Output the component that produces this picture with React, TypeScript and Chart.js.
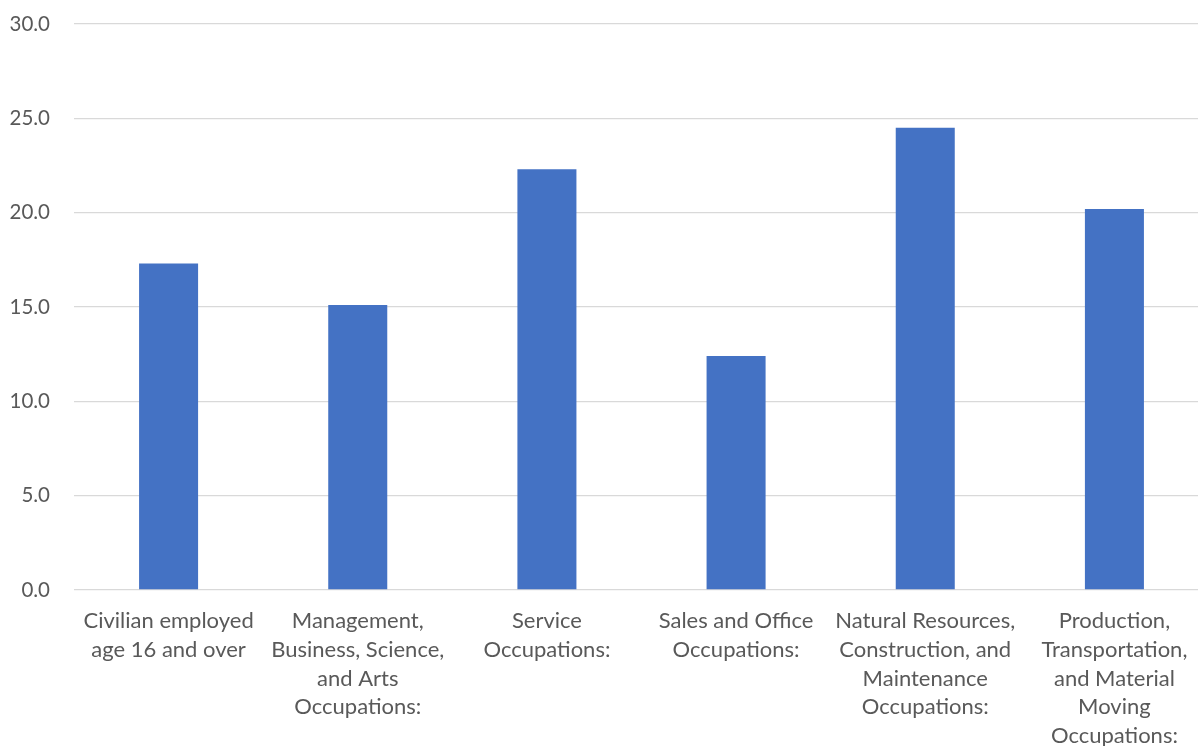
import React, { useEffect, useRef } from "react";
import { Chart, registerables } from "chart.js";

Chart.register(...registerables);

const categories: string[][] = [
  ["Civilian employed", "age 16 and over"],
  ["Management,", "Business, Science,", "and Arts", "Occupations:"],
  ["Service", "Occupations:"],
  ["Sales and Office", "Occupations:"],
  ["Natural Resources,", "Construction, and", "Maintenance", "Occupations:"],
  ["Production,", "Transportation,", "and Material", "Moving", "Occupations:"],
];

const values: number[] = [17.3, 15.1, 22.3, 12.4, 24.5, 20.2];

const yMin = 0;
const yMax = 30;
const yStep = 5;

const FONT = "Lato, 'Open Sans', sans-serif";
const CANVAS_W = 1209;
const CANVAS_H = 760;

export default function App() {
  const canvasRef = useRef<HTMLCanvasElement | null>(null);

  useEffect(() => {
    document.body.style.margin = "0";
    document.body.style.overflow = "hidden";
    const ctx = canvasRef.current;
    if (!ctx) return;
    const chart = new Chart(ctx, {
      type: "bar",
      data: {
        labels: categories,
        datasets: [
          {
            data: values,
            backgroundColor: "#4472c4",
            borderWidth: 0,
            barPercentage: 0.312,
            categoryPercentage: 1,
          },
        ],
      },
      options: {
        responsive: false,
        maintainAspectRatio: false,
        animation: false,
        layout: { padding: { top: 24, right: 0, bottom: 0, left: 0 } },
        plugins: {
          legend: { display: false },
          tooltip: { enabled: false },
        },
        scales: {
          x: {
            grid: { display: false, drawTicks: false },
            border: { display: false },
            ticks: {
              color: "#595959",
              font: { family: FONT, size: 22, lineHeight: 1.3 },
              padding: 17,
              maxRotation: 0,
              autoSkip: false,
            },
            afterFit: (scale: any) => {
              scale.height = CANVAS_H - 590;
              scale.paddingLeft = 0;
              scale.paddingRight = 0;
            },
          },
          y: {
            min: yMin,
            max: yMax,
            grid: { color: "#d9d9d9", lineWidth: 1.3, drawTicks: false },
            border: { display: false },
            ticks: {
              stepSize: yStep,
              color: "#595959",
              font: { family: FONT, size: 20.5 },
              padding: 24,
              callback: (v: any) => Number(v).toFixed(1),
            },
            afterFit: (scale: any) => {
              scale.width = 74;
              scale.paddingTop = 0;
              scale.paddingBottom = 0;
            },
          },
        },
      },
    });
    return () => chart.destroy();
  }, []);

  return (
    <div style={{ position: "absolute", left: 0, top: 0, width: CANVAS_W, height: CANVAS_H }}>
      <canvas ref={canvasRef} width={CANVAS_W} height={CANVAS_H} />
    </div>
  );
}
